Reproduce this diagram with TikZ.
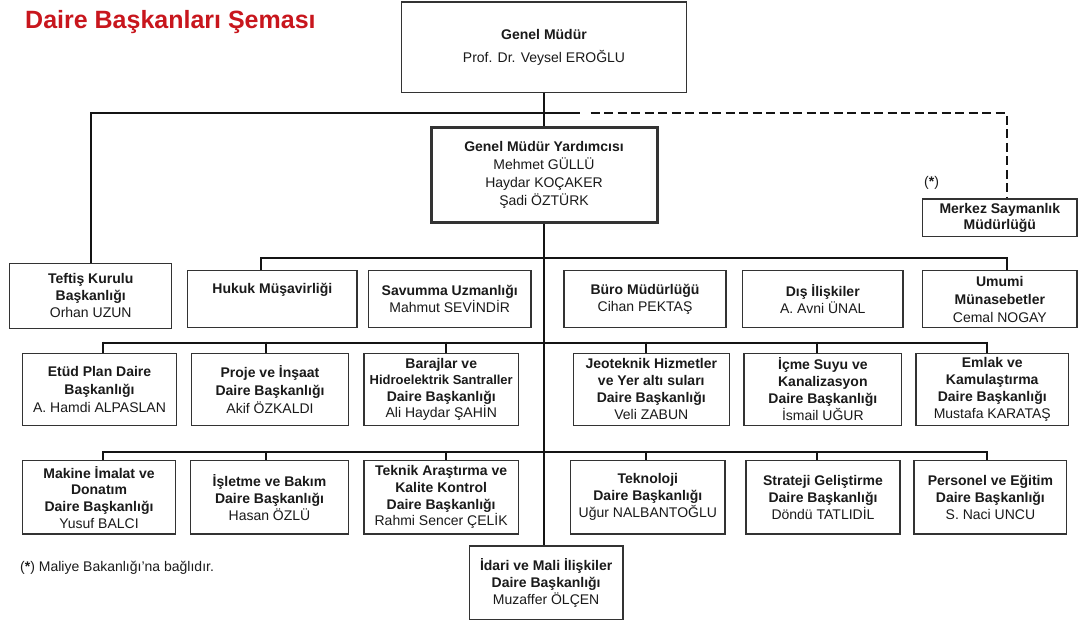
\documentclass[tikz,border=0pt]{standalone}
\usepackage{fontspec}
\setmainfont{Liberation Sans}
\definecolor{titlered}{HTML}{C8161D}
\definecolor{txtc}{HTML}{1A1A1A}
\definecolor{bordc}{HTML}{333333}
\definecolor{connc}{HTML}{141414}
\newcommand\boxfont{\fontsize{14}{17}\selectfont}
\tikzset{
  box/.style={draw=bordc, line width=1.2pt, fill=white, align=center, inner sep=0pt, text=txtc, font=\boxfont},
  bigbox/.style={box, line width=3pt},
  conn/.style={draw=connc, line width=2pt},
  dashconn/.style={conn, dash pattern=on 9pt off 4.5pt},
  plain/.style={inner sep=0pt, text=txtc},
}
% name, x1, y1, x2, y2, text
\newcommand\orgbox[7][]{%
  \node[box,#1,minimum width={#5-#3},minimum height={#6-#4}] (#2) at ({(#3+#5)/2},{(#4+#6)/2}) {#7};}
\begin{document}
\begin{tikzpicture}[x=1pt,y=-1pt]
\useasboundingbox (0,0) rectangle (1078,621);

% title and notes
\node[plain, anchor=base west, text=titlered, font=\fontsize{25}{30}\selectfont\bfseries] (title) at (25,28.5) {Daire Başkanları Şeması};
\node[plain, anchor=base west, font=\fontsize{14}{17}\selectfont] (note) at (20,571.5) {(\textbf{*}) Maliye Bakanlığı’na bağlıdır.};
\node[plain, anchor=base west, font=\fontsize{14}{17}\selectfont] (star) at (924,186.5) {(\textbf{*})};

% top level
\orgbox{gm}{401.5}{2}{686.5}{92.3}{\textbf{Genel Müdür}\\[6pt]Prof. Dr. Veysel EROĞLU}
\orgbox[bigbox, font=\fontsize{14}{18}\selectfont]{gmy}{431}{127.3}{657}{222.7}{\textbf{Genel Müdür Yardımcısı}\\Mehmet GÜLLÜ\\Haydar KOÇAKER\\Şadi ÖZTÜRK}
\orgbox[font=\fontsize{14}{16}\selectfont]{merkez}{922.7}{199}{1077}{236.7}{\textbf{Merkez Saymanlık}\\\textbf{Müdürlüğü}}

% row 1
\orgbox{teftis}{9.7}{263.3}{171.7}{328.5}{\textbf{Teftiş Kurulu}\\\textbf{Başkanlığı}\\Orhan UZUN}
\orgbox{hukuk}{187.7}{270.7}{357}{327.5}{\textbf{Hukuk Müşavirliği}\\\strut}
\orgbox{savunma}{368.5}{270.7}{531}{327.5}{\textbf{Savumma Uzmanlığı}\\Mahmut SEVİNDİR}
\orgbox{buro}{564}{270.7}{726}{327.5}{\textbf{Büro Müdürlüğü}\\Cihan PEKTAŞ}
\orgbox{dis}{742.5}{270.7}{903}{327.5}{\textbf{Dış İlişkiler}\\A. Avni ÜNAL}
\orgbox[font=\fontsize{14}{18}\selectfont]{umumi}{922.7}{270.7}{1077}{327.5}{\textbf{Umumi}\\\textbf{Münasebetler}\\Cemal NOGAY}

% row 2
\orgbox[font=\fontsize{14}{18}\selectfont]{etud}{22.3}{353.3}{176.7}{425.5}{\textbf{Etüd Plan Daire}\\\textbf{Başkanlığı}\\A. Hamdi ALPASLAN}
\orgbox[font=\fontsize{14}{18}\selectfont]{proje}{191.7}{353.3}{348.3}{425.5}{\textbf{Proje ve İnşaat}\\\textbf{Daire Başkanlığı}\\Akif ÖZKALDI}
\orgbox[font=\fontsize{14}{16.2}\selectfont]{baraj}{364}{353.3}{518.5}{425.5}{\textbf{Barajlar ve}\\{\fontsize{13}{16.2}\selectfont\textbf{Hidroelektrik Santraller}}\\\textbf{Daire Başkanlığı}\\Ali Haydar ŞAHİN}
\orgbox{jeo}{573.3}{353.3}{729.3}{425.5}{\textbf{Jeoteknik Hizmetler}\\\textbf{ve Yer altı suları}\\\textbf{Daire Başkanlığı}\\Veli ZABUN}
\orgbox{icme}{744}{353.3}{901.7}{425.5}{\textbf{İçme Suyu ve}\\\textbf{Kanalizasyon}\\\textbf{Daire Başkanlığı}\\İsmail UĞUR}
\orgbox{emlak}{916}{353.3}{1068.5}{425.5}{\textbf{Emlak ve}\\\textbf{Kamulaştırma}\\\textbf{Daire Başkanlığı}\\Mustafa KARATAŞ}

% row 3
\orgbox[font=\fontsize{14}{16.7}\selectfont]{makine}{22.3}{460.5}{175.7}{534}{\textbf{Makine İmalat ve}\\\textbf{Donatım}\\\textbf{Daire Başkanlığı}\\Yusuf BALCI}
\orgbox{isletme}{190.7}{460.5}{348.3}{534}{\textbf{İşletme ve Bakım}\\\textbf{Daire Başkanlığı}\\Hasan ÖZLÜ}
\orgbox[font=\fontsize{14}{16.7}\selectfont]{teknik}{364}{460.5}{518.3}{534}{\textbf{Teknik Araştırma ve}\\\textbf{Kalite Kontrol}\\\textbf{Daire Başkanlığı}\\Rahmi Sencer ÇELİK}
\orgbox{teknoloji}{570.7}{460.5}{725}{534}{\textbf{Teknoloji}\\\textbf{Daire Başkanlığı}\\Uğur NALBANTOĞLU}
\orgbox{strateji}{746}{460.5}{900}{534}{\textbf{Strateji Geliştirme}\\\textbf{Daire Başkanlığı}\\Döndü TATLIDİL}
\orgbox{personel}{914}{460.5}{1066.8}{534}{\textbf{Personel ve Eğitim}\\\textbf{Daire Başkanlığı}\\S. Naci UNCU}

% bottom
\orgbox{idari}{469.3}{546}{623}{619.5}{\textbf{İdari ve Mali İlişkiler}\\\textbf{Daire Başkanlığı}\\Muzaffer ÖLÇEN}

% connectors: trunk
\draw[conn] (gm.south) -- (gmy.north);
\draw[conn] (gmy.south) -- (gmy.south |- idari.north);

% first branch (Teftis, Merkez)
\coordinate (s1) at (580,113.3);
\coordinate (d1) at (590.7,113.3);
\coordinate (dc) at (1006.7,113.3);
\draw[conn] (teftis.north) |- (s1);
\draw[dashconn] (d1) -- (dc) -- (dc |- merkez.north);

% row 1 line
\coordinate (r1a) at (260.7,257.5);
\coordinate (r1b) at (1006.7,257.5);
\draw[conn] (r1a |- hukuk.north) -- (r1a) -- (r1b) -- (r1b |- umumi.north);

% row 2 and row 3 lines
\coordinate (r2a) at (102.7,342.7);
\coordinate (r2b) at (986.7,342.7);
\draw[conn] (r2a) -- (r2b);
\coordinate (r3a) at (102.7,452);
\coordinate (r3b) at (986.7,452);
\draw[conn] (r3a) -- (r3b);
\foreach \x/\up/\dn in {102.7/etud/makine, 266/proje/isletme, 445.7/baraj/teknik, 646/jeo/teknoloji, 816.7/icme/strateji, 986.7/emlak/personel}{
  \coordinate (t2) at (\x,342.7);
  \coordinate (t3) at (\x,452);
  \draw[conn] ([yshift=1pt]t2) -- (t2 |- \up.north);
  \draw[conn] ([yshift=1pt]t3) -- (t3 |- \dn.north);
}
\end{tikzpicture}
\end{document}
